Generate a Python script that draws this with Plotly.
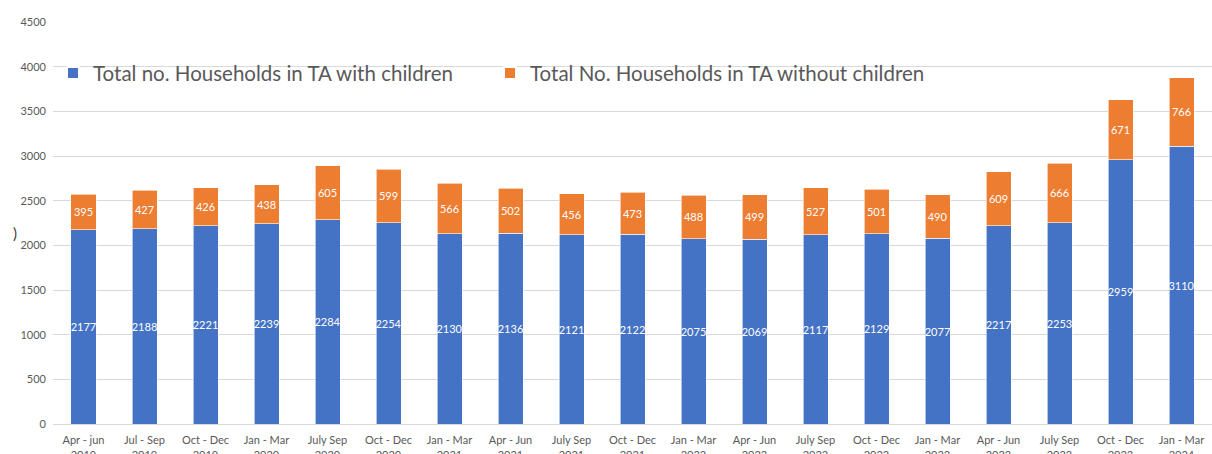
import plotly.graph_objects as go

# Quarter labels (period + year on a second line)
quarters = [
    "Apr - jun<br>2019", "Jul - Sep<br>2019", "Oct - Dec<br>2019", "Jan - Mar<br>2020",
    "July Sep<br>2020", "Oct - Dec<br>2020", "Jan - Mar<br>2021", "Apr - Jun<br>2021",
    "July Sep<br>2021", "Oct - Dec<br>2021", "Jan - Mar<br>2022", "Apr - Jun<br>2022",
    "July Sep<br>2022", "Oct - Dec<br>2022", "Jan - Mar<br>2023", "Apr - Jun<br>2023",
    "July Sep<br>2023", "Oct - Dec<br>2023", "Jan - Mar<br>2024",
]

with_children = [2177, 2188, 2221, 2239, 2284, 2254, 2130, 2136, 2121, 2122,
                 2075, 2069, 2117, 2129, 2077, 2217, 2253, 2959, 3110]
without_children = [395, 427, 426, 438, 605, 599, 566, 502, 456, 473,
                    488, 499, 527, 501, 490, 609, 666, 671, 766]

y_ticks = [0, 500, 1000, 1500, 2000, 2500, 3000, 3500, 4000, 4500]

FONT = "Lato, 'Open Sans', sans-serif"
GREY = "#595959"

fig = go.Figure()
fig.add_trace(go.Bar(
    x=quarters, y=with_children,
    name="Total no. Households in TA with children",
    marker=dict(color="#4472C4", line=dict(color="#FFFFFF", width=0.6)),
    text=[str(v) for v in with_children], textposition="inside",
    insidetextanchor="middle", textangle=0,
    textfont=dict(color="white", size=11, family=FONT),
    cliponaxis=False,
))
fig.add_trace(go.Bar(
    x=quarters, y=without_children,
    name="Total No. Households in TA without children",
    marker=dict(color="#ED7D31", line=dict(color="#FFFFFF", width=0.6)),
    text=[str(v) for v in without_children], textposition="inside",
    insidetextanchor="middle", textangle=0,
    textfont=dict(color="white", size=11, family=FONT),
    cliponaxis=False,
))

fig.update_layout(
    barmode="stack",
    bargap=0.59,
    width=1212, height=454,
    margin=dict(l=53, r=0, t=22, b=30, autoexpand=False),
    paper_bgcolor="white", plot_bgcolor="white",
    font=dict(family=FONT, color=GREY),
    uniformtext=dict(mode="show", minsize=11),
    legend=dict(
        orientation="h", x=0.0, xanchor="left", y=0.873, yanchor="middle",
        font=dict(size=20.5, color=GREY, family=FONT),
        bgcolor="rgba(0,0,0,0)", entrywidth=392, itemsizing="constant",
        traceorder="normal",
    ),
    xaxis=dict(
        tickfont=dict(size=11, color=GREY, family=FONT),
        showline=True, linecolor="#D9D9D9", linewidth=1,
        ticks="", automargin=False, showgrid=False, ticklabelstandoff=6,
    ),
    yaxis=dict(
        range=[0, 4500], tickvals=y_ticks,
        tickfont=dict(size=11, color=GREY, family=FONT),
        showgrid=True, gridcolor="#D9D9D9", gridwidth=1,
        zeroline=False, ticks="", ticklabelstandoff=6, automargin=False,
    ),
    annotations=[dict(
        text=")", xref="paper", yref="paper", x=-0.036, y=0.475,
        showarrow=False, font=dict(size=15, color="#404040", family=FONT),
    )],
)

fig.write_html("out.html")
